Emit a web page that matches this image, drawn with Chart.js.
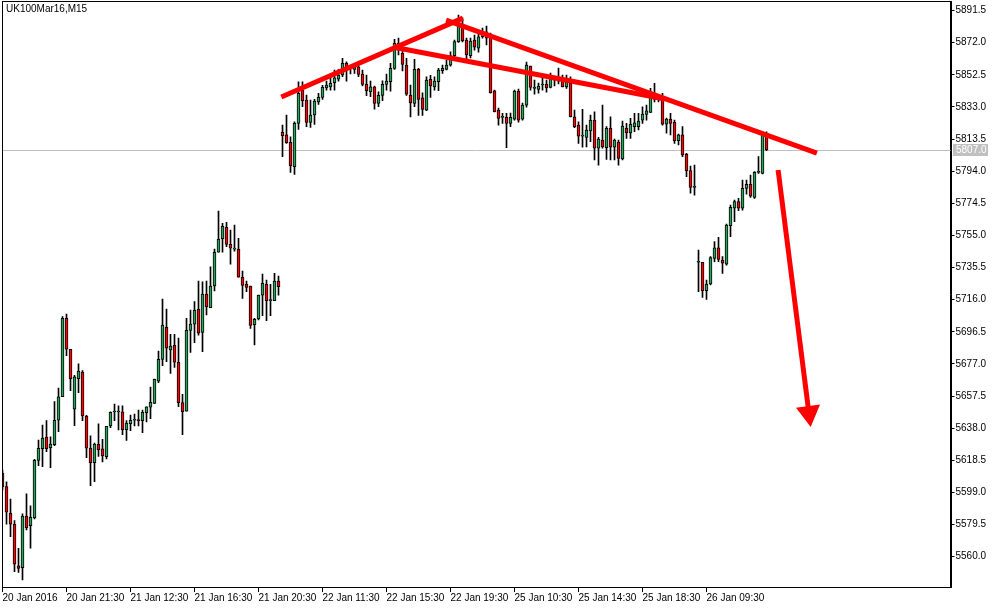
<!DOCTYPE html>
<html>
<head>
<meta charset="utf-8">
<script src="https://cdn.jsdelivr.net/npm/chart.js@4.4.1/dist/chart.umd.min.js"></script>
<style>
  html, body { margin: 0; padding: 0; background: #fff; }
  canvas { display: block; }
</style>
</head>
<body>
<canvas id="myChart" width="998" height="608"></canvas>
<script>
var symbolTitle = 'UK100Mar16,M15';

// bottom axis labels, one every 16 bars (4 hours of M15 bars)
var timeLabels = ['20 Jan 2016', '20 Jan 21:30', '21 Jan 12:30', '21 Jan 16:30', '21 Jan 20:30', '22 Jan 11:30',
                  '22 Jan 15:30', '22 Jan 19:30', '25 Jan 10:30', '25 Jan 14:30', '25 Jan 18:30', '26 Jan 09:30'];
var tickEvery = 16;

var priceTicks = [5891.5, 5872.0, 5852.5, 5833.0, 5813.5, 5794.0, 5774.5, 5755.0, 5735.5, 5716.0,
                  5696.5, 5677.0, 5657.5, 5638.0, 5618.5, 5599.0, 5579.5, 5560.0];

var opens = [
  5610.8, 5602.5, 5586.4, 5579.7, 5554.5, 5553.3, 5584.7, 5578.8, 5583.5, 5618.5,
  5625.5, 5632.6, 5626.1, 5628.0, 5642.8, 5657.1, 5704.7, 5685.9, 5649.5, 5668.0,
  5672.1, 5645.2, 5625.8, 5617.1, 5628.2, 5625.4, 5620.7, 5639.3, 5647.8, 5647.8,
  5648.0, 5637.1, 5640.7, 5642.8, 5642.8, 5642.6, 5647.4, 5650.7, 5653.1, 5666.6,
  5679.8, 5699.2, 5685.5, 5688.3, 5678.0, 5653.5, 5648.3, 5697.4, 5701.2, 5710.3,
  5696.2, 5719.4, 5711.1, 5724.3, 5744.8, 5753.0, 5759.9, 5749.6, 5746.7, 5746.7,
  5729.6, 5725.5, 5724.3, 5700.8, 5704.3, 5718.8, 5725.3, 5715.4, 5715.4, 5727.3,
  5817.6, 5816.0, 5811.5, 5796.7, 5823.0, 5843.2, 5837.2, 5823.6, 5828.1, 5836.1,
  5838.8, 5844.6, 5845.2, 5847.7, 5849.9, 5852.4, 5859.5, 5856.9, 5855.8, 5857.4,
  5853.0, 5846.7, 5842.2, 5845.2, 5835.2, 5840.0, 5846.7, 5848.3, 5856.4, 5871.6,
  5865.5, 5858.4, 5840.2, 5835.2, 5855.8, 5838.6, 5831.1, 5849.7, 5845.2, 5848.3,
  5855.0, 5855.8, 5858.4, 5864.1, 5872.6, 5882.7, 5873.6, 5864.1, 5873.6, 5868.6,
  5875.6, 5878.6, 5876.6, 5842.8, 5831.1, 5826.7, 5826.7, 5823.0, 5825.5, 5842.6,
  5825.5, 5834.1, 5857.8, 5844.3, 5843.7, 5846.3, 5846.9, 5844.9, 5849.3, 5848.7,
  5849.9, 5845.2, 5847.3, 5827.0, 5822.0, 5815.3, 5814.5, 5818.5, 5825.0, 5807.9,
  5812.9, 5808.2, 5820.0, 5808.5, 5811.7, 5801.4, 5820.0, 5817.3, 5821.0, 5821.0,
  5825.0, 5828.5, 5829.7, 5837.6, 5837.2, 5839.2, 5822.6, 5825.6, 5823.6, 5812.5,
  5816.0, 5804.2, 5794.3, 5784.2, 5738.7, 5738.7, 5721.4, 5725.5, 5741.1, 5747.5,
  5740.1, 5737.6, 5760.9, 5771.5, 5775.5, 5771.5, 5783.6, 5786.0, 5778.1, 5793.3,
  5792.7, 5816.0
];
var highs = [
  5612.6, 5605.5, 5595.0, 5581.9, 5565.1, 5586.0, 5598.1, 5590.8, 5619.1, 5630.8,
  5639.9, 5642.6, 5632.8, 5654.1, 5662.4, 5705.7, 5707.3, 5685.9, 5670.1, 5677.0,
  5672.9, 5645.8, 5633.3, 5629.0, 5640.6, 5631.2, 5639.1, 5648.0, 5652.7, 5651.5,
  5651.5, 5642.6, 5646.0, 5646.6, 5649.0, 5649.0, 5651.0, 5663.0, 5667.8, 5684.8,
  5716.4, 5710.3, 5695.0, 5695.0, 5692.7, 5658.6, 5704.7, 5709.7, 5714.8, 5727.3,
  5726.9, 5727.3, 5736.0, 5746.7, 5769.8, 5762.4, 5762.9, 5758.3, 5761.3, 5753.2,
  5733.4, 5727.3, 5724.3, 5704.7, 5718.8, 5731.6, 5727.9, 5725.3, 5732.0, 5730.4,
  5822.0, 5828.1, 5814.9, 5824.0, 5848.3, 5848.3, 5840.2, 5837.2, 5837.6, 5841.2,
  5846.1, 5848.7, 5851.3, 5855.4, 5855.8, 5862.5, 5860.4, 5857.8, 5858.4, 5858.4,
  5855.4, 5852.4, 5848.7, 5845.7, 5842.2, 5848.9, 5853.0, 5859.5, 5874.0, 5874.8,
  5867.5, 5862.5, 5846.3, 5861.9, 5856.4, 5841.6, 5851.3, 5852.2, 5851.3, 5856.4,
  5858.4, 5861.5, 5866.5, 5873.6, 5888.8, 5887.1, 5874.8, 5874.8, 5876.6, 5879.7,
  5880.9, 5882.1, 5877.8, 5843.2, 5832.3, 5829.1, 5829.1, 5829.3, 5843.2, 5843.8,
  5835.4, 5860.2, 5857.8, 5849.3, 5847.5, 5850.5, 5849.3, 5853.6, 5851.7, 5856.6,
  5852.4, 5852.4, 5851.3, 5831.1, 5824.0, 5831.5, 5822.0, 5828.1, 5830.1, 5814.5,
  5834.1, 5821.0, 5827.0, 5813.5, 5812.9, 5824.4, 5823.0, 5826.1, 5829.1, 5829.1,
  5833.1, 5834.1, 5844.3, 5847.3, 5838.8, 5841.2, 5826.3, 5829.1, 5825.0, 5816.5,
  5821.0, 5804.8, 5797.1, 5797.7, 5746.1, 5738.7, 5727.9, 5742.1, 5751.2, 5753.9,
  5742.1, 5761.9, 5773.5, 5776.5, 5777.5, 5788.6, 5788.6, 5791.7, 5793.7, 5802.8,
  5817.9, 5817.9
];
var lows = [
  5600.5, 5579.7, 5572.2, 5550.9, 5550.5, 5545.9, 5576.2, 5565.1, 5582.9, 5615.2,
  5614.6, 5623.7, 5614.0, 5627.4, 5635.9, 5657.1, 5682.0, 5660.8, 5639.5, 5659.5,
  5642.6, 5620.1, 5603.1, 5605.5, 5620.9, 5617.5, 5619.3, 5638.3, 5642.6, 5636.9,
  5634.0, 5630.6, 5636.5, 5639.3, 5639.3, 5635.3, 5641.8, 5643.8, 5653.1, 5665.6,
  5675.9, 5678.4, 5671.3, 5674.9, 5651.0, 5634.0, 5648.3, 5684.0, 5689.9, 5694.4,
  5684.4, 5706.7, 5711.1, 5721.3, 5744.8, 5744.8, 5748.2, 5737.5, 5745.5, 5729.6,
  5716.8, 5720.8, 5698.6, 5688.5, 5703.7, 5706.3, 5703.2, 5706.3, 5715.4, 5718.8,
  5802.8, 5810.9, 5793.3, 5792.1, 5819.4, 5833.1, 5821.0, 5820.6, 5822.4, 5834.6,
  5837.6, 5843.2, 5843.2, 5843.2, 5848.7, 5851.3, 5848.7, 5853.0, 5853.4, 5851.3,
  5845.7, 5839.8, 5839.2, 5831.7, 5833.1, 5836.8, 5843.2, 5842.6, 5855.8, 5864.5,
  5854.8, 5840.0, 5827.0, 5833.1, 5827.9, 5827.9, 5830.7, 5838.8, 5843.2, 5842.8,
  5853.4, 5855.4, 5857.8, 5863.5, 5872.2, 5872.4, 5861.5, 5862.7, 5867.5, 5866.3,
  5874.8, 5870.6, 5841.4, 5829.9, 5822.0, 5823.0, 5808.2, 5821.0, 5825.0, 5823.8,
  5825.0, 5832.9, 5843.2, 5840.8, 5841.4, 5843.2, 5842.0, 5844.5, 5845.7, 5846.9,
  5845.1, 5844.3, 5826.9, 5820.4, 5810.9, 5808.5, 5808.8, 5811.9, 5800.8, 5797.7,
  5807.9, 5801.2, 5800.8, 5800.8, 5797.7, 5800.8, 5813.9, 5813.9, 5818.0, 5819.0,
  5823.0, 5825.0, 5829.5, 5836.1, 5836.1, 5822.0, 5817.0, 5816.0, 5810.9, 5809.9,
  5802.8, 5790.6, 5780.6, 5779.5, 5720.8, 5717.4, 5716.2, 5724.9, 5739.0, 5739.0,
  5732.0, 5737.0, 5754.2, 5763.3, 5770.0, 5770.4, 5780.1, 5778.1, 5777.5, 5792.7,
  5792.3, 5806.4
];
var closes = [
  5602.3, 5587.0, 5579.7, 5555.4, 5552.9, 5584.7, 5577.6, 5583.9, 5618.5, 5625.8,
  5632.0, 5625.5, 5628.4, 5642.8, 5657.1, 5704.7, 5685.9, 5668.1, 5669.1, 5672.7,
  5645.6, 5625.8, 5617.1, 5628.4, 5625.0, 5621.1, 5639.1, 5647.6, 5648.1, 5648.1,
  5637.1, 5641.1, 5642.8, 5643.2, 5642.6, 5647.6, 5651.0, 5653.7, 5667.7, 5679.8,
  5700.6, 5686.5, 5687.9, 5678.0, 5653.5, 5648.0, 5697.4, 5701.2, 5709.5, 5695.6,
  5719.4, 5711.7, 5724.3, 5744.8, 5752.8, 5760.5, 5749.6, 5747.2, 5747.0, 5729.6,
  5724.7, 5723.5, 5700.4, 5704.1, 5718.8, 5725.9, 5715.4, 5715.6, 5727.3, 5723.9,
  5815.5, 5811.3, 5797.3, 5823.0, 5841.2, 5836.8, 5823.6, 5828.1, 5836.6, 5838.8,
  5844.9, 5846.3, 5847.3, 5850.7, 5852.4, 5859.5, 5857.4, 5856.4, 5857.4, 5852.8,
  5846.7, 5842.8, 5845.2, 5835.2, 5840.0, 5846.7, 5848.7, 5856.4, 5871.6, 5867.5,
  5858.8, 5840.8, 5835.5, 5855.8, 5837.6, 5831.5, 5849.3, 5845.7, 5848.7, 5855.4,
  5856.4, 5858.4, 5864.1, 5872.6, 5882.7, 5873.2, 5864.5, 5873.0, 5869.2, 5875.6,
  5878.6, 5874.8, 5841.6, 5830.1, 5826.1, 5826.9, 5823.0, 5826.7, 5842.6, 5825.0,
  5834.1, 5858.4, 5844.9, 5844.5, 5845.7, 5846.5, 5844.6, 5850.3, 5849.5, 5848.9,
  5845.2, 5848.3, 5827.0, 5821.0, 5815.3, 5815.5, 5819.0, 5825.0, 5807.9, 5813.5,
  5808.8, 5820.0, 5808.5, 5812.9, 5801.8, 5821.4, 5817.3, 5822.4, 5823.4, 5824.4,
  5828.7, 5830.7, 5839.2, 5837.8, 5837.4, 5822.6, 5825.6, 5823.0, 5812.5, 5816.0,
  5803.8, 5794.3, 5784.2, 5784.4, 5738.9, 5721.4, 5725.5, 5741.5, 5747.5, 5740.5,
  5738.1, 5761.3, 5772.1, 5775.5, 5771.5, 5783.6, 5786.0, 5778.9, 5793.3, 5793.5,
  5816.0, 5807.0
];

// hand drawn objects on the chart, in bar index / price
var risingLine = [{x: 69.7, y: 5839.0}, {x: 115.1, y: 5886.9}];
var upperFallLine = [{x: 110.9, y: 5885.7}, {x: 203.6, y: 5805.0}];
var lowerFallLine = [{x: 97.6, y: 5869.4}, {x: 165.6, y: 5837.8}];
var arrowLine = [{x: 193.9, y: 5794.7}, {x: 201.6, y: 5647.2}];

var lastPrice = closes[closes.length - 1];

var bodies = opens.map(function (o, i) { return {x: i, y: [o, closes[i]]}; });
var wicks = lows.map(function (l, i) { return {x: i, y: [l, highs[i]]}; });
var bodyColors = opens.map(function (o, i) { return closes[i] >= o ? '#26a65b' : '#ff0000'; });

var mtDecor = {
  id: 'mtDecor',
  beforeDatasetsDraw: function (chart) {
    var c = chart.ctx, a = chart.chartArea;
    var y = Math.round(chart.scales.y.getPixelForValue(lastPrice)) + 0.5;
    c.save();
    c.strokeStyle = '#c0c0c0';
    c.lineWidth = 1;
    c.beginPath();
    c.moveTo(a.left, y);
    c.lineTo(a.right, y);
    c.stroke();
    c.restore();
  },
  afterDraw: function (chart) {
    var c = chart.ctx, a = chart.chartArea;
    var y = Math.round(chart.scales.y.getPixelForValue(lastPrice));
    c.save();
    c.strokeStyle = '#000';
    c.lineWidth = 1;
    c.strokeRect(Math.floor(a.left) + 0.5, Math.floor(a.top) + 0.5,
                 Math.round(a.right) - Math.floor(a.left), Math.round(a.bottom) - Math.floor(a.top));
    c.font = '10px "Liberation Sans"';
    c.fillStyle = '#000';
    c.textBaseline = 'middle';
    c.textAlign = 'left';
    c.fillText(symbolTitle, 6, 9);
    c.fillStyle = '#c0c0c0';
    c.fillRect(Math.round(a.right) + 2, y - 6, 35, 12);
    c.fillStyle = '#fff';
    c.fillText(lastPrice.toFixed(1), Math.round(a.right) + 5, y);
    c.restore();
  }
};

var redLine = function (pts) {
  return {type: 'line', data: pts, borderColor: '#ff0000', borderWidth: 5, pointRadius: 0, order: 0};
};

var arrowSet = redLine(arrowLine);
arrowSet.pointRadius = [0, 9];
arrowSet.pointStyle = 'triangle';
arrowSet.pointRotation = 172.7;
arrowSet.pointBackgroundColor = '#ff0000';
arrowSet.pointBorderColor = '#ff0000';

Chart.defaults.font.family = '"Liberation Sans", Arial, sans-serif';
Chart.defaults.font.size = 10;

var ctx = document.getElementById('myChart').getContext('2d');
var myChart = new Chart(ctx, {
  type: 'bar',
  data: {
    datasets: [
      redLine(risingLine),
      redLine(upperFallLine),
      redLine(lowerFallLine),
      arrowSet,
      {
        data: bodies,
        backgroundColor: bodyColors,
        borderColor: '#000',
        borderWidth: 1,
        borderSkipped: false,
        barThickness: 3,
        minBarLength: 1,
        grouped: false,
        order: 1
      },
      {
        data: wicks,
        backgroundColor: '#000',
        barThickness: 1,
        grouped: false,
        order: 2
      }
    ]
  },
  options: {
    responsive: false,
    animation: false,
    devicePixelRatio: 1,
    layout: { autoPadding: false, padding: { left: 2.5, top: 1, right: 0, bottom: 0 } },
    plugins: { legend: { display: false }, tooltip: { enabled: false } },
    scales: {
      x: {
        type: 'linear',
        min: 0,
        max: 237,
        offset: false,
        bounds: 'data',
        grid: { drawOnChartArea: false, drawTicks: true, tickLength: 5, color: '#000', offset: false },
        border: { color: '#000' },
        afterBuildTicks: function (s) {
          s.ticks = timeLabels.map(function (t, i) { return {value: i * tickEvery}; });
        },
        afterFit: function (s) { s.height = 21; s.paddingLeft = 0; s.paddingRight = 0; },
        ticks: {
          autoSkip: false, maxRotation: 0, minRotation: 0, align: 'start', padding: 0, color: '#000',
          callback: function (v, i) { return timeLabels[i]; }
        }
      },
      y: {
        position: 'right',
        min: 5541.6,
        max: 5897.3,
        bounds: 'data',
        grid: { drawOnChartArea: false, tickLength: 4, color: '#000' },
        border: { color: '#000' },
        afterBuildTicks: function (s) {
          s.ticks = priceTicks.map(function (v) { return {value: v}; });
        },
        afterFit: function (s) { s.width = 47.5; s.paddingTop = 0; s.paddingBottom = 0; },
        ticks: { padding: 1, color: '#000', callback: function (v) { return v.toFixed(1); } }
      }
    }
  },
  plugins: [mtDecor]
});
</script>
</body>
</html>
